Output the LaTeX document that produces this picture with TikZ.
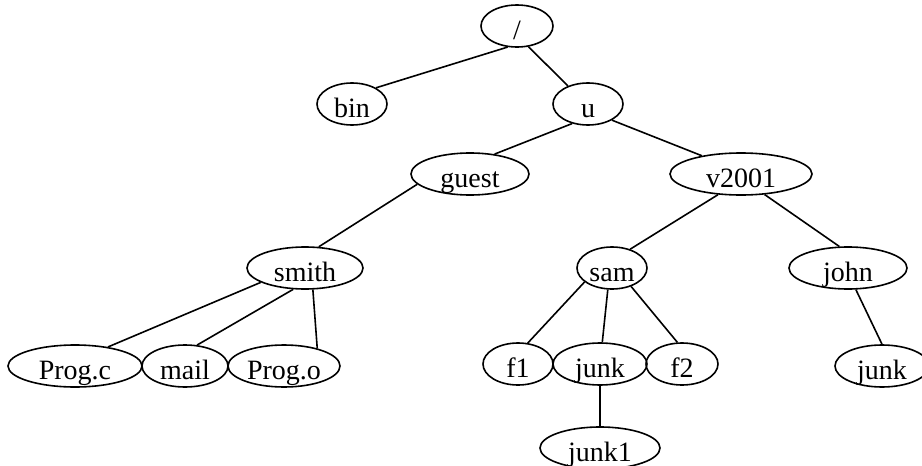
\documentclass[tikz,border=0pt]{standalone}
\usepackage{fontspec}
\setmainfont{Liberation Serif}
\usetikzlibrary{shapes.geometric}
\begin{document}
\begin{tikzpicture}[x=1pt,y=-1pt,
  nd/.style={draw, ellipse, line width=1.6pt, inner sep=0pt, minimum height=42pt,
    text height=26pt, text depth=0pt, font=\fontsize{28}{30}\selectfont},
  ln/.style={line width=1.6pt}]
\clip (0,0) rectangle (922,466);
\node[nd, minimum width=72pt]  (root)  at (517,26)  {/};
\node[nd, minimum width=70pt]  (bin)   at (352,104) {bin};
\node[nd, minimum width=70pt]  (u)     at (588,104) {u};
\node[nd, minimum width=118pt] (guest) at (470,174) {guest};
\node[nd, minimum width=142pt] (v2001) at (741,174) {v2001};
\node[nd, minimum width=116pt] (smith) at (305,268) {smith};
\node[nd, minimum width=70pt]  (sam)   at (612,268) {sam};
\node[nd, minimum width=118pt] (john)  at (848,268) {john};
\node[nd, minimum width=134pt] (progc) at (75,366)  {Prog.c};
\node[nd, minimum width=86pt]  (mail)  at (185,366) {mail};
\node[nd, minimum width=112pt] (progo) at (284,366) {Prog.o};
\node[nd, minimum width=70pt]  (f1)    at (518,364) {f1};
\node[nd, minimum width=94pt]  (junk)  at (600,364) {junk};
\node[nd, minimum width=72pt]  (f2)    at (682,364) {f2};
\node[nd, minimum width=94pt]  (junkr) at (882,366) {junk};
\node[nd, minimum width=120pt] (junka) at (600,448) {junk1};

\draw[ln] (root.-114) -- (bin.34);
\draw[ln] (root.-61) -- (u.138);
\draw[ln] (u.-129) -- (guest.39);
\draw[ln] (u.-34) -- (v2001.155);
\draw[ln] (guest.-169) -- (smith.57);
\draw[ln] (v2001.-138) -- (sam.46);
\draw[ln] (v2001.-41) -- (john.112);
\draw[ln] (smith.-162) -- (progc.30);
\draw[ln] (smith.-119) -- (mail.60);
\draw[ln] (smith.-70) -- (progo.28);
\draw[ln] (sam.-153) -- (f1.65);
\draw[ln] (sam.-101) -- (junk.84);
\draw[ln] (sam.-44) -- (f2.102);
\draw[ln] (john.-70) -- (junkr.90);
\draw[ln] (junk.-90) -- (junka.90);
\end{tikzpicture}
\end{document}
